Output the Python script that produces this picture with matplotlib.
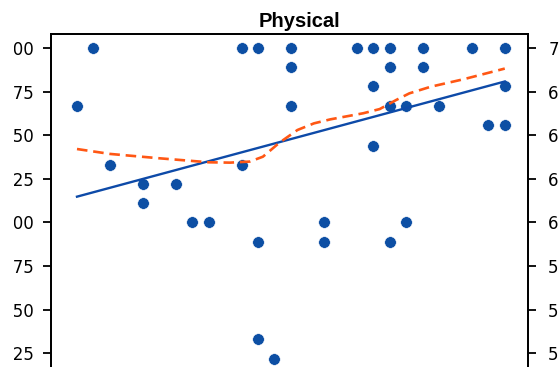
import matplotlib
matplotlib.use("Agg")
import matplotlib.pyplot as plt
from matplotlib.patches import Rectangle

# scatter points (x position, score)
pt_x = [0, 1, 2, 4, 4, 6, 7, 8, 10, 10, 11, 11, 11, 12, 13, 13, 13, 15, 15,
        17, 18, 18, 18, 19, 19, 19, 19, 20, 20, 21, 21, 22, 24, 25, 26, 26, 26]
pt_y = [6.67, 7.00, 6.33, 6.22, 6.11, 6.22, 6.00, 6.00, 7.00, 6.33, 7.00, 5.89, 5.33,
        5.22, 7.00, 6.89, 6.67, 6.00, 5.89, 7.00, 7.00, 6.78, 6.44, 7.00, 6.89, 6.67,
        5.89, 6.67, 6.00, 7.00, 6.89, 6.67, 7.00, 6.56, 7.00, 6.78, 6.56]

# linear fit
fit_x = [0, 26]
fit_y = [6.148, 6.808]

# smoothed trend (dashed)
smooth_x = [0, 2, 5, 8, 9.3, 10.5, 11.3, 12.3, 13.4, 14.4, 15.4, 17.4, 18.4, 19.4,
            20.2, 21.5, 23.5, 26]
smooth_y = [6.421, 6.393, 6.368, 6.345, 6.343, 6.349, 6.377, 6.457, 6.530, 6.568,
            6.591, 6.626, 6.650, 6.702, 6.740, 6.778, 6.821, 6.882]

yticks = [5.0, 5.25, 5.5, 5.75, 6.0, 6.25, 6.5, 6.75, 7.0]

W, H = 559, 367
fig = plt.figure(figsize=(W / 100, H / 100), dpi=100)
# axes runs off the bottom of the canvas
ax = fig.add_axes([51 / W, (H - 397) / H, 477.3 / W, 363.5 / H])

ax.scatter(pt_x, pt_y, s=70, color="#0d4fa4", edgecolor="white", linewidth=0.4, zorder=1)
ax.plot(fit_x, fit_y, color="#0d4aa8", lw=1.7, zorder=2)
ax.plot(smooth_x, smooth_y, color="#ff5714", lw=1.9, ls=(0, (4, 2.2)), zorder=3)

ax.set_xlim(-1.58, 27.43)
ax.set_ylim(5.0, 7.083)
ax.set_yticks(yticks)
ax.set_yticklabels(["%.2f" % v for v in yticks])
ax.set_xticks([])
ax.tick_params(axis="y", length=5.5, width=1.3, pad=6.3, labelsize=12)
for s in ax.spines.values():
    s.set_linewidth(1.3)

ax2 = ax.twinx()
ax2.set_ylim(ax.get_ylim())
ax2.set_yticks(yticks)
ax2.set_yticklabels(["%.2f" % v for v in yticks])
ax2.tick_params(axis="y", length=5.5, width=1.3, pad=8.8, labelsize=12)
for s in ax2.spines.values():
    s.set_linewidth(1.3)

ax.set_title("Physical", fontfamily="Liberation Sans", fontweight="bold",
             fontsize=14.5, x=0.52, pad=5)

# left edge of the source image is blank
fig.patches.append(Rectangle((0, 0), 14 / W, 1, transform=fig.transFigure,
                             facecolor="white", edgecolor="none", zorder=10))

fig.savefig("out.png", dpi=100)
